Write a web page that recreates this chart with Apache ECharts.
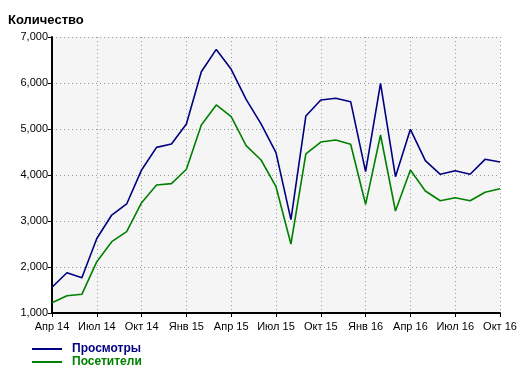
<!DOCTYPE html>
<html><head><meta charset="utf-8">
<script src="https://cdn.jsdelivr.net/npm/echarts@6/dist/echarts.min.js"></script>
<style>html,body{margin:0;padding:0;background:#fff}#c{width:528px;height:374px}</style>
</head><body><div id="c"></div>
<script>
var months = ['Апр 14','Май 14','Июн 14','Июл 14','Авг 14','Сен 14','Окт 14','Ноя 14','Дек 14',
  'Янв 15','Фев 15','Мар 15','Апр 15','Май 15','Июн 15','Июл 15','Авг 15','Сен 15','Окт 15','Ноя 15','Дек 15',
  'Янв 16','Фев 16','Мар 16','Апр 16','Май 16','Июн 16','Июл 16','Авг 16','Сен 16','Окт 16'];
var views = [1560,1876,1768,2620,3130,3370,4110,4600,4674,5110,6246,6730,6297,5645,5110,4485,
  3030,5283,5630,5667,5594,4072,5993,3964,4993,4311,4015,4094,4015,4341,4283];
var visitors = [1224,1376,1406,2116,2551,2768,3399,3783,3812,4124,5087,5522,5268,4638,4326,3746,
  2500,4457,4717,4761,4667,3363,4870,3217,4109,3652,3441,3507,3441,3624,3702];
var yMin = 1000, yMax = 7000, yStep = 1000;
var titleText = 'Количество';
var seriesNames = ['Просмотры','Посетители'];
var colors = ['#000080','#008000'];

var chart = echarts.init(document.getElementById('c'));
var font = 'Liberation Sans, Arial, sans-serif';
function mkLegend(i, top){
  return {orient:'horizontal',left:32,top:top,padding:0,itemWidth:30,itemHeight:2,icon:'rect',
    data:[{name:seriesNames[i],textStyle:{color:colors[i]}}],
    textStyle:{fontFamily:font,fontSize:12,fontWeight:'bold',padding:[0,0,0,5]}};
}
chart.setOption({
  animation:false,
  backgroundColor:'#fff',
  title:{text:titleText,left:3,top:9,textStyle:{fontFamily:font,fontSize:13,fontWeight:'bold',color:'#000'}},
  grid:{left:52,right:28,top:37,bottom:61,show:true,backgroundColor:'#f5f5f5',borderWidth:0},
  legend:[mkLegend(0,343), mkLegend(1,356)],
  xAxis:{type:'category',data:months,boundaryGap:false,
    axisLine:{lineStyle:{color:'#000',width:2}},
    axisTick:{interval:2,length:4,lineStyle:{color:'#000',width:1}},
    axisLabel:{interval:2,color:'#000',fontFamily:font,fontSize:11,margin:8},
    splitLine:{show:true,interval:2,lineStyle:{color:'#999',type:[1,3],width:1}}},
  yAxis:{type:'value',min:yMin,max:yMax,interval:yStep,
    axisLine:{show:true,lineStyle:{color:'#000',width:2}},
    axisTick:{show:true,length:4,lineStyle:{color:'#000'}},
    axisLabel:{color:'#000',fontFamily:font,fontSize:11,margin:4,formatter:function(v){return v.toLocaleString('en-US');}},
    splitLine:{show:true,lineStyle:{color:'#999',type:[1,3],width:1}}},
  series:[
    {name:seriesNames[0],type:'line',data:views,symbol:'none',lineStyle:{color:colors[0],width:1.6},itemStyle:{color:colors[0]}},
    {name:seriesNames[1],type:'line',data:visitors,symbol:'none',lineStyle:{color:colors[1],width:1.6},itemStyle:{color:colors[1]}}
  ]
});
</script></body></html>
